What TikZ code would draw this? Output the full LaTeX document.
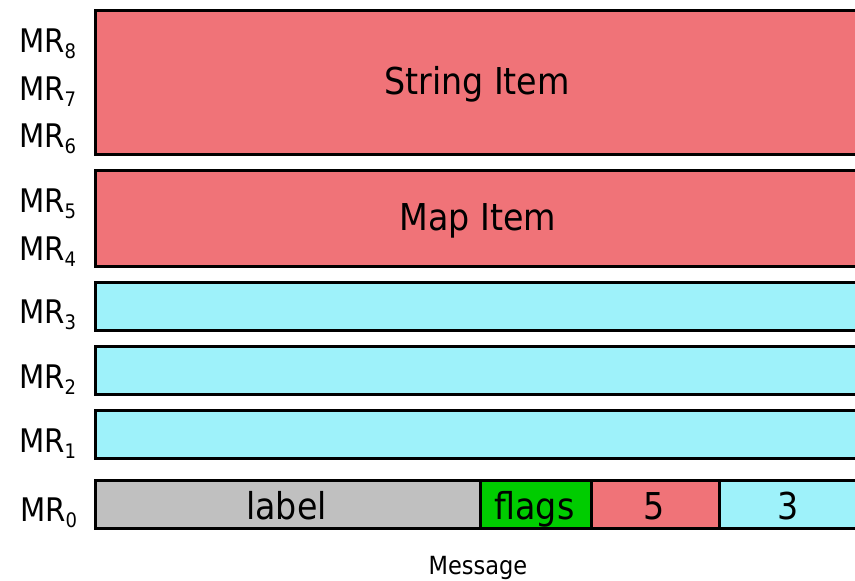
\documentclass[tikz,border=0pt]{standalone}
\usepackage{fontspec}
\setmainfont{DejaVu Sans Condensed}
\definecolor{pinkc}{HTML}{F07378}
\definecolor{cyanc}{HTML}{9EF2FA}
\definecolor{grayc}{HTML}{C0C0C0}
\definecolor{greenc}{HTML}{00CC00}
\newcommand{\mrlab}[1]{MR\raisebox{-6pt}{\fontsize{20}{20}\selectfont #1}}
\tikzset{
  regbox/.style={draw=black, line width=2.5pt, anchor=north west, inner sep=0pt},
  boxtext/.style={anchor=base, inner sep=0pt, font=\fontsize{37}{37}\selectfont},
  mrtext/.style={anchor=base west, inner sep=0pt, font=\fontsize{32.5}{32.5}\selectfont},
}
\begin{document}
\begin{tikzpicture}[x=1pt,y=-1pt]
\clip (0,0) rectangle (855,581);
\useasboundingbox (0,0) rectangle (855,581);
\node[regbox, fill=pinkc, minimum width=766pt, minimum height=144pt] (str) at (94,9) {};
\node[regbox, fill=pinkc, minimum width=766pt, minimum height=96pt] (map) at (94,169) {};
\node[regbox, fill=cyanc, minimum width=766pt, minimum height=48pt] (r3) at (94,281) {};
\node[regbox, fill=cyanc, minimum width=766pt, minimum height=48pt] (r2) at (94,345) {};
\node[regbox, fill=cyanc, minimum width=766pt, minimum height=48pt] (r1) at (94,409) {};
\node[regbox, fill=grayc, minimum width=385pt, minimum height=48pt] (lab) at (94,479) {};
\node[regbox, fill=greenc, minimum width=111pt, minimum height=48pt] (flg) at (479,479) {};
\node[regbox, fill=pinkc, minimum width=128pt, minimum height=48pt] (five) at (590,479) {};
\node[regbox, fill=cyanc, minimum width=142pt, minimum height=48pt] (three) at (718,479) {};
\node[boxtext] (strt) at (477,94) {String Item};
\node[boxtext] (mapt) at (478,230) {Map Item};
\node[boxtext] (labt) at (286.5,519) {label};
\node[boxtext] (flgt) at (534.5,519) {flags};
\node[boxtext] (fivet) at (654,519) {5};
\node[boxtext] (threet) at (788,519) {3};
\node[mrtext] (m8) at (19,52) {\mrlab{8}};
\node[mrtext] (m7) at (19,100) {\mrlab{7}};
\node[mrtext] (m6) at (19,147) {\mrlab{6}};
\node[mrtext] (m5) at (19,212) {\mrlab{5}};
\node[mrtext] (m4) at (19,260) {\mrlab{4}};
\node[mrtext] (m3) at (19,323) {\mrlab{3}};
\node[mrtext] (m2) at (19,388) {\mrlab{2}};
\node[mrtext] (m1) at (19,452) {\mrlab{1}};
\node[mrtext] (m0) at (20,521) {\mrlab{0}};
\node[inner sep=0pt, anchor=base, font=\fontsize{25}{25}\selectfont] (msg) at (478,574) {Message};
\end{tikzpicture}
\end{document}
